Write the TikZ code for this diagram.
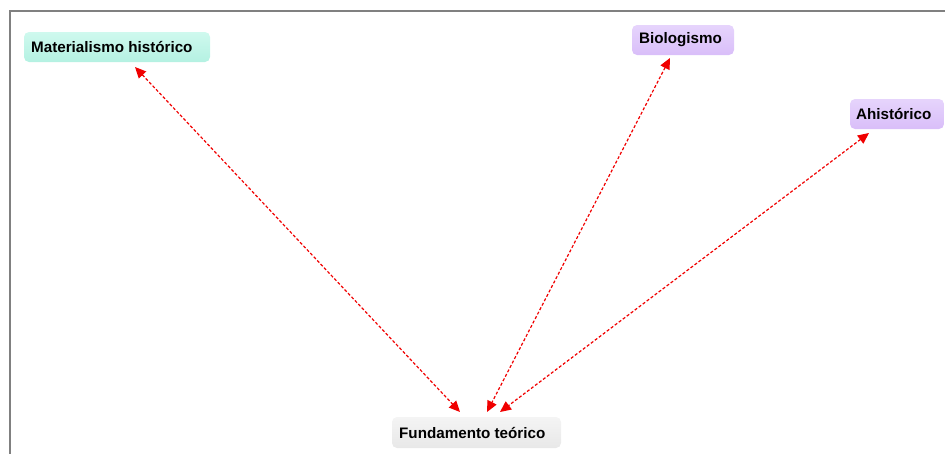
\documentclass[tikz,border=0pt]{standalone}
\usepackage{fontspec}
\setmainfont{Liberation Sans}
\usetikzlibrary{arrows.meta}
\definecolor{aquaT}{HTML}{CFF9EE}
\definecolor{aquaB}{HTML}{B4F1E2}
\definecolor{lavT}{HTML}{E6D4FC}
\definecolor{lavB}{HTML}{D9BEF9}
\definecolor{grayT}{HTML}{F4F4F4}
\definecolor{grayB}{HTML}{E8E8E8}
\definecolor{frameC}{HTML}{808080}
\definecolor{arrC}{HTML}{F00000}
\begin{document}
\begin{tikzpicture}[x=1pt,y=-1pt,
  concept/.style={rounded corners=5pt, font=\fontsize{15.2}{17}\selectfont\bfseries, text=black, inner sep=0pt},
  link/.style={draw=arrC, dashed, dash pattern=on 3pt off 2pt, line width=1.2pt, {Triangle[length=11pt,width=10pt]}-{Triangle[length=11pt,width=10pt]}}
]
\useasboundingbox (0,0) rectangle (945,453);
\draw[frameC, line width=2pt] (10,460) -- (10,11) -- (950,11);
% nodes
\shade[top color=aquaT, bottom color=aquaB, rounded corners=5pt] (24,32) rectangle (210,62);
\node[concept, anchor=west] (mat) at (31,46.5) {Materialismo histórico};
\shade[top color=lavT, bottom color=lavB, rounded corners=5pt] (632,25) rectangle (734,55);
\node[concept, anchor=west] (bio) at (639,39.5) {Biologismo};
\shade[top color=lavT, bottom color=lavB, rounded corners=5pt] (850,99) rectangle (944,129);
\node[concept, anchor=west] (ahi) at (856,113.5) {Ahistórico};
\shade[top color=grayT, bottom color=grayB, rounded corners=5pt] (392,417) rectangle (561,448);
\node[concept, anchor=west] (fun) at (399,432.5) {Fundamento teórico};
% endpoints
\coordinate (m1) at (135,67);
\coordinate (f1) at (460,412);
\coordinate (b1) at (670,58);
\coordinate (f2) at (487,412);
\coordinate (a1) at (869,133);
\coordinate (f3) at (500,412);
\draw[link] (m1) -- (f1);
\draw[link] (b1) -- (f2);
\draw[link] (a1) -- (f3);
\end{tikzpicture}
\end{document}
